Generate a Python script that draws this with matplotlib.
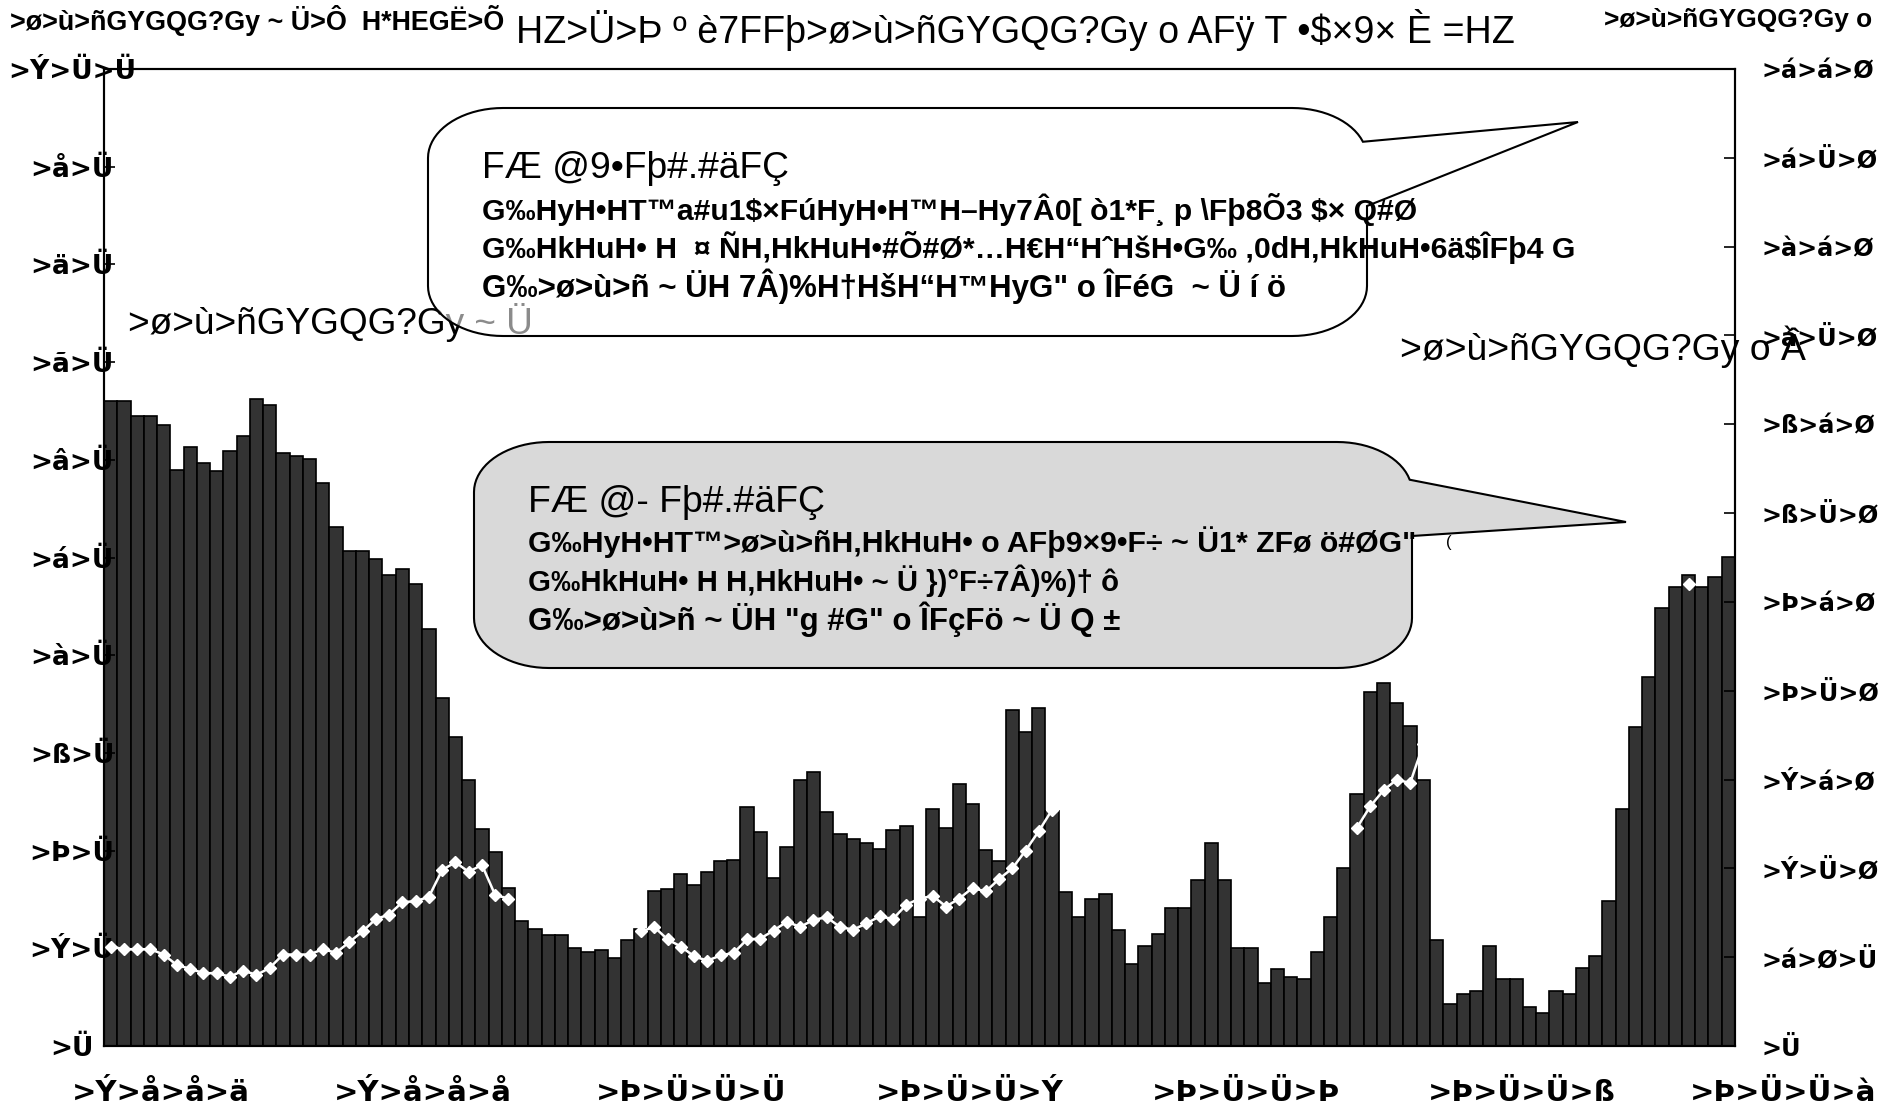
import matplotlib
matplotlib.use("Agg")
import matplotlib.pyplot as plt
import numpy as np
from matplotlib.patches import Polygon

W, H = 1881, 1111
nan = np.nan

# monthly bars (left axis) and the white line series (right axis)
bars = [66.0, 66.0, 64.5, 64.5, 63.6, 59.0, 61.3, 59.7, 58.9, 60.9, 62.4, 66.2, 65.6,
        60.7, 60.4, 60.1, 57.6, 53.1, 50.7, 50.7, 49.8, 48.2, 48.8, 47.3, 42.7, 35.6,
        31.6, 27.2, 22.2, 19.9, 16.2,
        12.8, 12.0, 11.4, 11.4, 10.0, 9.6, 9.8, 9.0, 10.8, 12.0, 15.9, 16.1, 17.6, 16.5,
        17.8, 18.9, 19.0, 24.5, 21.9, 17.2, 20.4, 27.2, 28.0, 23.9, 21.7, 21.2, 20.8,
        20.2, 22.1, 22.5, 13.2,
        24.3, 22.3, 26.8, 24.8, 20.1, 18.9, 34.4, 32.1, 34.6, 24.1, 15.8, 13.2, 15.0,
        15.6, 11.9, 8.4, 10.2, 11.5, 14.1, 14.1, 17.0, 20.8, 17.0, 10.0, 10.0, 6.4, 7.9,
        7.1, 6.9, 9.6, 13.2,
        18.2, 25.8, 36.2, 37.2, 35.1, 32.8, 27.2, 10.8, 4.3, 5.3, 5.6, 10.2, 6.9, 6.9,
        4.0, 3.4, 5.6, 5.3, 8.0, 9.2, 14.8, 24.3, 32.6, 37.8, 44.8, 47.0, 48.2, 47.0,
        48.0, 50.1]

line = ([5.6, 5.45, 5.45, 5.45, 5.15, 4.55, 4.35, 4.1, 4.1, 3.9, 4.25, 4.0, 4.4,
         5.15, 5.15, 5.15, 5.45, 5.25, 5.85, 6.45, 7.15, 7.4, 8.1, 8.15, 8.4, 9.9,
         10.35, 9.8, 10.2, 8.5, 8.3]
        + [nan] * 9
        + [6.45, 6.7, 6.0, 5.6, 5.05, 4.8, 5.1, 5.25, 6.0, 6.05, 6.5, 7.0, 6.7, 7.1,
           7.25, 6.7, 6.55, 6.9, 7.3, 7.15, 7.95, 8.3, 8.45, 7.85, 8.3, 8.9, 8.7, 9.4,
           10.0, 11.0, 12.1, 13.3]
        + [nan] * 22
        + [12.3, 13.5, 14.4, 15.0, 14.8, 17.0]
        + [nan] * 19
        + [26.0, nan, nan, nan])

left_ticks = list(range(0, 101, 10))
left_labels = ['>Ü', '>Ý>Ü', '>Þ>Ü', '>ß>Ü', '>à>Ü', '>á>Ü', '>â>Ü', '>ã>Ü',
               '>ä>Ü', '>å>Ü', '>Ý>Ü>Ü']
right_ticks = list(range(0, 56, 5))
right_labels = ['>Ü', '>á>Ø>Ü', '>Ý>Ü>Ø', '>Ý>á>Ø', '>Þ>Ü>Ø', '>Þ>á>Ø',
                '>ß>Ü>Ø', '>ß>á>Ø', '>à>Ü>Ø', '>à>á>Ø', '>á>Ü>Ø', '>á>á>Ø']
year_labels = ['>Ý>å>å>ä', '>Ý>å>å>å', '>Þ>Ü>Ü>Ü', '>Þ>Ü>Ü>Ý', '>Þ>Ü>Ü>Þ',
               '>Þ>Ü>Ü>ß', '>Þ>Ü>Ü>à']
year_x = [72, 334, 596, 876, 1152, 1428, 1690]

top_left = '>ø>ù>ñGYGQG?Gy ~ Ü>Ô  H*HEGË>Õ'
title = 'HZ>Ü>Þ º è7FFþ>ø>ù>ñGYGQG?Gy o AFÿ T •$×9× È =HZ'
top_right = '>ø>ù>ñGYGQG?Gy o'
left_name = '>ø>ù>ñGYGQG?Gy ~ Ü'
right_name = '>ø>ù>ñGYGQG?Gy o Â'
note1 = ['FÆ @9•Fþ#.#äFÇ',
         'G‰HyH•HT™a#u1$×FúHyH•H™H–Hy7Â0[ ò1*F¸ p \\Fþ8Õ3 $× Q#Ø',
         'G‰HkHuH• H  ¤ ÑH,HkHuH•#Õ#Ø*…H€H“HˆHšH•G‰ ,0dH,HkHuH•6ä$ÎFþ4 G',
         'G‰>ø>ù>ñ ~ ÜH 7Â)%H†HšH“H™HyG" o ÎFéG  ~ Ü í ö']
note2 = ['FÆ @- Fþ#.#äFÇ',
         'G‰HyH•HT™>ø>ù>ñH,HkHuH• o AFþ9×9•F÷ ~ Ü1* ZFø ö#ØG"',
         'G‰HkHuH• H H,HkHuH• ~ Ü })°F÷7Â)%)† ô',
         'G‰>ø>ù>ñ ~ ÜH "g #G" o ÎFçFö ~ Ü Q ±']

plt.rcParams['font.family'] = ['Liberation Sans', 'DejaVu Sans']

fig = plt.figure(figsize=(W / 100, H / 100), dpi=100)
ax = fig.add_axes([104 / W, 1 - 1046 / H, 1631 / W, 977 / H])
ax2 = ax.twinx()

x = np.arange(len(bars))
ax.bar(x, bars, width=1.0, color='#333333', edgecolor='black', linewidth=1.2)
ax.set_xlim(-0.5, len(bars) - 0.5)
ax.set_ylim(0, 100)
ax.set_xticks([])
ax.set_yticks(left_ticks)
ax.set_yticklabels(left_labels, fontfamily='DejaVu Sans', fontweight='bold',
                   fontsize=19, ha='center')
ax.tick_params(axis='y', direction='in', length=8, width=1.2, pad=23)

ax2.plot(x, line, color='white', lw=1.8, marker='D', ms=6.5, mfc='white', mec='white')
ax2.set_ylim(0, 55)
ax2.set_yticks(right_ticks)
ax2.set_yticklabels(right_labels, fontfamily='DejaVu Sans', fontweight='bold',
                    fontsize=17.3, ha='left')
ax2.tick_params(axis='y', direction='in', length=8, width=1.2, pad=19)
for a in (ax, ax2):
    for s in a.spines.values():
        s.set_color('black')
        s.set_linewidth(1.5)

renderer = fig.canvas.get_renderer()


def put(x0, y0, s, width=None, z=3, **kw):
    t = fig.text(x0 / W, 1 - y0 / H, s, va='center', ha='left', zorder=z,
                 parse_math=False, **kw)
    if width:
        w = t.get_window_extent(renderer).width
        t.set_fontsize(t.get_fontsize() * width / w)
    return t


def callout(x0, y0, x1, y1, yu, yl, tip, rx=75, ry=50):
    pts = []
    for a in np.linspace(np.pi, np.pi / 2, 20):
        pts.append((x0 + rx + rx * np.cos(a), y0 + ry - ry * np.sin(a)))
    for a in np.linspace(np.pi / 2, 0, 20):
        yy = y0 + ry - ry * np.sin(a)
        if yy <= yu:
            pts.append((x1 - rx + rx * np.cos(a), yy))
    pts.append(tip)
    pts.append((x1, yl))
    for a in np.linspace(0, -np.pi / 2, 20):
        pts.append((x1 - rx + rx * np.cos(a), y1 - ry - ry * np.sin(a)))
    for a in np.linspace(-np.pi / 2, -np.pi, 20):
        pts.append((x0 + rx + rx * np.cos(a), y1 - ry - ry * np.sin(a)))
    return [(px / W, 1 - py / H) for px, py in pts]


# header texts
put(10, 21, top_left, width=494, fontweight='bold')
put(516, 30, title, width=996)
put(1604, 20, top_right, width=268, fontweight='bold')

# axis names, kept under the callouts
put(128, 322, left_name, width=406, z=0.5)
put(1400, 348, right_name, width=406, z=0.5)

for lab, xp in zip(year_labels, year_x):
    put(xp, 1093, lab, fontfamily='DejaVu Sans', fontweight='bold', fontsize=21)

# callouts
box1 = callout(428, 108, 1367, 336, 144, 206, (1578, 122))
fig.add_artist(Polygon(box1, closed=True, transform=fig.transFigure,
                       facecolor='white', alpha=0.55, edgecolor='none', zorder=1))
fig.add_artist(Polygon(box1, closed=True, transform=fig.transFigure,
                       facecolor='none', edgecolor='black', lw=1.5, zorder=1.1))
box2 = callout(474, 442, 1412, 668, 480, 536, (1626, 522))
fig.add_artist(Polygon(box2, closed=True, transform=fig.transFigure,
                       facecolor='#d9d9d9', edgecolor='black', lw=1.5, zorder=1))

for (yy, wd), s in zip([(168, 307), (210, 934), (248, 1093), (286, 802)], note1):
    put(482, yy, s, width=wd, fontweight='normal' if yy == 168 else 'bold')
for (yy, wd), s in zip([(502, 298), (542, 888), (581, 590), (619, 594)], note2):
    put(528, yy, s, width=wd, fontweight='normal' if yy == 502 else 'bold')
put(1446, 542, '(', fontsize=12)

fig.savefig('out.png', dpi=100)
